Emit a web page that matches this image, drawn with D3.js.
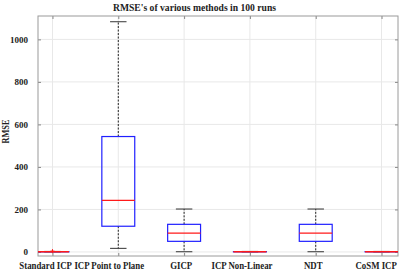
<!DOCTYPE html>
<html>
<head>
<meta charset="utf-8">
<script src="https://cdn.jsdelivr.net/npm/d3@7"></script>
<style>
  body { margin: 0; background: #fff; }
  text { font-family: "Liberation Serif", "Times New Roman", serif; font-weight: bold; fill: #222; }
</style>
</head>
<body>
<div class="canvas"></div>
<script>
// box plot data
const methods = ['Standard ICP', 'ICP Point to Plane', 'GICP', 'ICP Non-Linear', 'NDT', 'CoSM ICP'];
const whiskerLow  = [0.3, 17, 1, 0.3, 1, 0.3];
const q1          = [0.6, 121, 50, 0.6, 50, 0.6];
const median      = [1.0, 243, 89, 1.0, 89, 1.0];
const q3          = [1.5, 543, 130, 1.5, 130, 1.5];
const whiskerHigh = [2.5, 1083, 202, 2.5, 202, 2.5];
const outliers    = [[4], [], [], [], [], []];
const yTicks = [0, 200, 400, 600, 800, 1000];

const data = methods.map((m, i) => ({
    name: m, pos: i + 1,
    lo: whiskerLow[i], q1: q1[i], med: median[i], q3: q3[i], hi: whiskerHigh[i],
    out: outliers[i]
}));

const width = 407, height = 273;
const margin = {top: 16, right: 9, bottom: 17, left: 38};
const graphWidth = width - margin.left - margin.right;
const graphHeight = height - margin.top - margin.bottom;

const svg = d3.select('.canvas')
    .append('svg')
        .attr('width', width)
        .attr('height', height);

const x = d3.scaleLinear()
    .domain([0.78, 6.25])
    .range([0, graphWidth]);

const y = d3.scaleLinear()
    .domain([-19, 1110])
    .range([graphHeight, 0]);

const graph = svg.append('g')
    .attr('transform', `translate(${margin.left}, ${margin.top})`);

svg.append('defs').append('clipPath')
    .attr('id', 'plotClip')
    .append('rect')
        .attr('width', graphWidth)
        .attr('height', graphHeight);

// grid
graph.append('g')
    .selectAll('line.gy')
    .data(yTicks)
    .enter().append('line')
        .attr('x1', 0).attr('x2', graphWidth)
        .attr('y1', d => y(d)).attr('y2', d => y(d))
        .attr('stroke', '#e8e8e8').attr('stroke-width', 1);
graph.append('g')
    .selectAll('line.gx')
    .data(data)
    .enter().append('line')
        .attr('x1', d => x(d.pos)).attr('x2', d => x(d.pos))
        .attr('y1', 0).attr('y2', graphHeight)
        .attr('stroke', '#e8e8e8').attr('stroke-width', 1);

// axes (ticks pointing inwards, on all four sides)
const yAxisL = d3.axisLeft(y).tickValues(yTicks).tickSizeInner(-3).tickSizeOuter(0).tickPadding(10)
    .tickFormat(d3.format('d'));
const yAxisR = d3.axisRight(y).tickValues(yTicks).tickSizeInner(-3).tickSizeOuter(0).tickFormat('');
const xAxisB = d3.axisBottom(x).tickValues(data.map(d => d.pos)).tickSizeInner(-3).tickSizeOuter(0).tickFormat('');
const xAxisT = d3.axisTop(x).tickValues(data.map(d => d.pos)).tickSizeInner(-3).tickSizeOuter(0).tickFormat('');

const yAxisGroup = graph.append('g').call(yAxisL);
graph.append('g').attr('transform', `translate(${graphWidth},0)`).call(yAxisR);
graph.append('g').attr('transform', `translate(0,${graphHeight})`).call(xAxisB);
graph.append('g').call(xAxisT);

graph.selectAll('.domain').remove();
graph.selectAll('.tick line').attr('stroke', '#888');
yAxisGroup.selectAll('text')
    .attr('font-size', 9)
    .style('font-family', '"Liberation Serif", serif')
    .style('font-weight', 'bold')
    .attr('fill', '#222');

// frame
graph.append('rect')
    .attr('width', graphWidth)
    .attr('height', graphHeight)
    .attr('fill', 'none')
    .attr('stroke', '#9a9a9a')
    .attr('stroke-width', 1);

// boxes
const boxW = 0.5, capW = 0.25;
const plot = graph.append('g').attr('clip-path', 'url(#plotClip)');

const boxes = plot.selectAll('g.box')
    .data(data)
    .enter().append('g')
        .attr('class', 'box');

// whiskers
boxes.append('line')
    .attr('x1', d => x(d.pos)).attr('x2', d => x(d.pos))
    .attr('y1', d => y(d.q3)).attr('y2', d => y(d.hi))
    .attr('stroke', '#222').attr('stroke-dasharray', '2,1.5');
boxes.append('line')
    .attr('x1', d => x(d.pos)).attr('x2', d => x(d.pos))
    .attr('y1', d => y(d.q1)).attr('y2', d => y(d.lo))
    .attr('stroke', '#222').attr('stroke-dasharray', '2,1.5');
// caps
boxes.append('line')
    .attr('x1', d => x(d.pos - capW / 2)).attr('x2', d => x(d.pos + capW / 2))
    .attr('y1', d => y(d.hi)).attr('y2', d => y(d.hi))
    .attr('stroke', '#333');
boxes.append('line')
    .attr('x1', d => x(d.pos - capW / 2)).attr('x2', d => x(d.pos + capW / 2))
    .attr('y1', d => y(d.lo)).attr('y2', d => y(d.lo))
    .attr('stroke', '#333');
// box
boxes.append('rect')
    .attr('x', d => x(d.pos - boxW / 2))
    .attr('width', d => x(d.pos + boxW / 2) - x(d.pos - boxW / 2))
    .attr('y', d => y(d.q3))
    .attr('height', d => y(d.q1) - y(d.q3))
    .attr('fill', 'none')
    .attr('stroke', '#2020ff')
    .attr('stroke-width', 1.2);
// median
boxes.append('line')
    .attr('x1', d => x(d.pos - boxW / 2)).attr('x2', d => x(d.pos + boxW / 2))
    .attr('y1', d => y(d.med)).attr('y2', d => y(d.med))
    .attr('stroke', '#ff1a1a')
    .attr('stroke-width', 1.3);
// outliers as red '+'
boxes.selectAll('path.out')
    .data(d => d.out.map(v => ({pos: d.pos, v: v})))
    .enter().append('path')
        .attr('d', d => `M${x(d.pos) - 2},${y(d.v)}h4M${x(d.pos)},${y(d.v) - 2}v4`)
        .attr('stroke', '#ff1a1a')
        .attr('stroke-width', 1);

// category labels, condensed like the original
const xLabels = svg.append('g')
    .selectAll('text')
    .data(data)
    .enter().append('text')
        .attr('y', 269)
        .attr('text-anchor', 'middle')
        .attr('font-size', 10)
        .text(d => d.name);
xLabels.each(function(d) {
    const w = this.getComputedTextLength() * 0.88;
    d3.select(this)
        .attr('textLength', w)
        .attr('lengthAdjust', 'spacingAndGlyphs')
        .attr('x', margin.left + x(d.pos) - 0.13 * w);
});

// title
const title = svg.append('text')
    .attr('x', 194.5)
    .attr('y', 11)
    .attr('text-anchor', 'middle')
    .attr('font-size', 11)
    .text("RMSE's of various methods in 100 runs");
title.attr('textLength', 163).attr('lengthAdjust', 'spacingAndGlyphs');

// y label
svg.append('text')
    .attr('transform', 'translate(9,131.5) rotate(-90)')
    .attr('text-anchor', 'middle')
    .attr('font-size', 9.5)
    .attr('textLength', 24)
    .attr('lengthAdjust', 'spacingAndGlyphs')
    .text('RMSE');
</script>
</body>
</html>
